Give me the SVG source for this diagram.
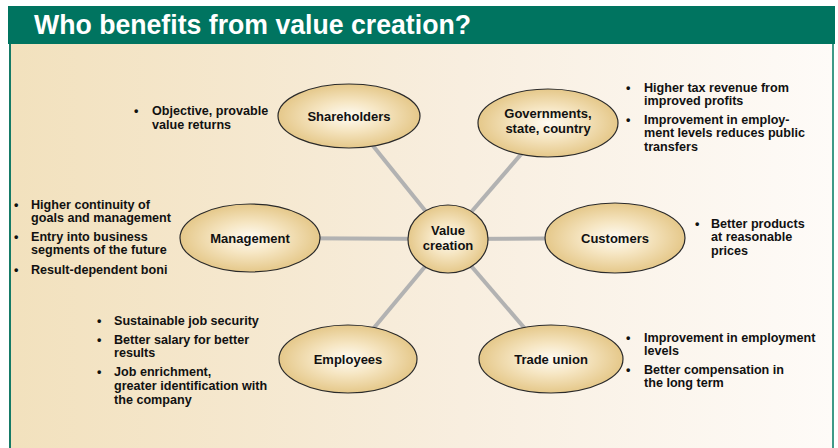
<svg xmlns="http://www.w3.org/2000/svg" width="838" height="448" viewBox="0 0 838 448">
<defs>
<linearGradient id="bg" x1="0" y1="0" x2="1" y2="0">
<stop offset="0" stop-color="#f2e1bd"/>
<stop offset="0.55" stop-color="#f8eedf"/>
<stop offset="1" stop-color="#fefbf8"/>
</linearGradient>
<radialGradient id="ell" cx="0.5" cy="0.5" r="0.5">
<stop offset="0" stop-color="#fefbf3"/>
<stop offset="0.45" stop-color="#f6e6c3"/>
<stop offset="1" stop-color="#e5c88a"/>
</radialGradient>
<style>
.node ellipse{fill:url(#ell);stroke:#2a2a2a;stroke-width:1.2}
.lbl{font-family:"Liberation Sans",Arial,sans-serif;font-weight:bold;font-size:13px;fill:#111;text-anchor:middle}
.t{font-family:"Liberation Sans",Arial,sans-serif;font-weight:bold;font-size:12.6px;fill:#111}
.conn line{stroke:#b2b2b2;stroke-width:4}
</style>
</defs>
<rect x="9" y="44" width="824" height="404" fill="url(#bg)"/>
<rect x="8" y="6" width="827" height="38" fill="#007460"/>
<line x1="10" y1="44" x2="10" y2="448" stroke="#157a66" stroke-width="2"/>
<line x1="833" y1="44" x2="833" y2="448" stroke="#3f9a88" stroke-width="2"/>
<text x="34" y="34" font-family="'Liberation Sans',Arial,sans-serif" font-weight="bold" font-size="28" fill="#fff" textLength="437" lengthAdjust="spacingAndGlyphs">Who benefits from value creation?</text>

<g id="connectors" class="conn">
<line x1="448" y1="239" x2="349" y2="116"/>
<line x1="448" y1="239" x2="548" y2="123"/>
<line x1="448" y1="239" x2="250" y2="238"/>
<line x1="448" y1="239" x2="615" y2="238"/>
<line x1="448" y1="239" x2="348" y2="359"/>
<line x1="448" y1="239" x2="551" y2="359"/>
</g>

<g id="shareholders" class="node">
<ellipse cx="349" cy="116" rx="71" ry="32"/>
<text class="lbl" x="349" y="121">Shareholders</text>
</g>
<g id="governments" class="node">
<ellipse cx="548" cy="123" rx="70" ry="34"/>
<text class="lbl" x="548" y="118">Governments,</text>
<text class="lbl" x="548" y="133">state, country</text>
</g>
<g id="management" class="node">
<ellipse cx="250" cy="238" rx="70" ry="34"/>
<text class="lbl" x="250" y="243">Management</text>
</g>
<g id="value-creation" class="node">
<ellipse cx="448" cy="239" rx="40" ry="34"/>
<text class="lbl" x="448" y="235">Value</text>
<text class="lbl" x="448" y="250">creation</text>
</g>
<g id="customers" class="node">
<ellipse cx="615" cy="238" rx="70" ry="35"/>
<text class="lbl" x="615" y="243">Customers</text>
</g>
<g id="employees" class="node">
<ellipse cx="348" cy="359" rx="69" ry="34"/>
<text class="lbl" x="348" y="364">Employees</text>
</g>
<g id="trade-union" class="node">
<ellipse cx="551" cy="359" rx="72" ry="34"/>
<text class="lbl" x="551" y="364">Trade union</text>
</g>

<g id="notes-shareholders" class="t">
<text x="134" y="115">•</text>
<text x="152" y="115">Objective, provable</text>
<text x="152" y="129">value returns</text>
</g>
<g id="notes-governments" class="t">
<text x="626" y="92">•</text>
<text x="644" y="92">Higher tax revenue from</text>
<text x="644" y="105">improved profits</text>
<text x="626" y="124">•</text>
<text x="644" y="124">Improvement in employ-</text>
<text x="644" y="137">ment levels reduces public</text>
<text x="644" y="151">transfers</text>
</g>
<g id="notes-management" class="t">
<text x="14" y="209">•</text>
<text x="31" y="209">Higher continuity of</text>
<text x="31" y="222">goals and management</text>
<text x="14" y="241">•</text>
<text x="31" y="241">Entry into business</text>
<text x="31" y="254">segments of the future</text>
<text x="14" y="274">•</text>
<text x="31" y="274">Result-dependent boni</text>
</g>
<g id="notes-customers" class="t">
<text x="695" y="228">•</text>
<text x="711" y="228">Better products</text>
<text x="711" y="241">at reasonable</text>
<text x="711" y="255">prices</text>
</g>
<g id="notes-employees" class="t">
<text x="97" y="325">•</text>
<text x="114" y="325">Sustainable job security</text>
<text x="97" y="344">•</text>
<text x="114" y="344">Better salary for better</text>
<text x="114" y="357">results</text>
<text x="97" y="376">•</text>
<text x="114" y="376">Job enrichment,</text>
<text x="114" y="390">greater identification with</text>
<text x="114" y="404">the company</text>
</g>
<g id="notes-trade-union" class="t">
<text x="626" y="342">•</text>
<text x="644" y="342">Improvement in employment</text>
<text x="644" y="355">levels</text>
<text x="626" y="374">•</text>
<text x="644" y="374">Better compensation in</text>
<text x="644" y="387">the long term</text>
</g>
</svg>
